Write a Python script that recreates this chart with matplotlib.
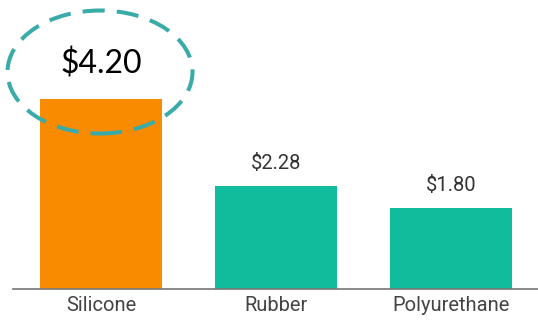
import matplotlib
matplotlib.use("Agg")
import matplotlib.pyplot as plt
from matplotlib.patches import Ellipse

categories = ["Silicone", "Rubber", "Polyurethane"]
values = [4.20, 2.28, 1.80]
labels = ["$4.20", "$2.28", "$1.80"]
colors = ["#F98B00", "#10BC9C", "#10BC9C"]

fig = plt.figure(figsize=(5.38, 3.24), dpi=100)
ax = fig.add_axes([13/538, 35/324, 525/538, 289/324])
x = list(range(len(categories)))
ax.bar(x, values, width=0.697, color=colors, zorder=2)
ax.set_xlim(-0.503, 2.497)
ax.set_ylim(0, 289/45.24)
for s in ["top", "right", "left"]:
    ax.spines[s].set_visible(False)
ax.spines["bottom"].set_color("#777777")
ax.spines["bottom"].set_linewidth(1.2)
ax.set_yticks([])
ax.set_xticks(x)
ax.set_xticklabels(categories, fontfamily="Roboto", fontsize=14.5, color="#444444")
ax.tick_params(axis="x", length=0, pad=5)

for i, (v, lab) in enumerate(zip(values, labels)):
    if i == 0:
        ax.annotate(lab, (i, v), xytext=(0, 25), textcoords="offset points",
                    ha="center", va="center", fontfamily="Lato", fontsize=23,
                    color="black", annotation_clip=False)
    else:
        ax.annotate(lab, (i, v), xytext=(0, 16), textcoords="offset points",
                    ha="center", va="center", fontfamily="Roboto", fontsize=14.5,
                    color="#333333")

ell = Ellipse((1.00, (324 - 72) / 100), 1.85, 1.23, transform=fig.dpi_scale_trans,
              fill=False, edgecolor="#3AABA8", linewidth=2.9,
              linestyle=(0, (5.5, 3)), zorder=5)
fig.patches.append(ell)

fig.savefig("out.png", dpi=100)
